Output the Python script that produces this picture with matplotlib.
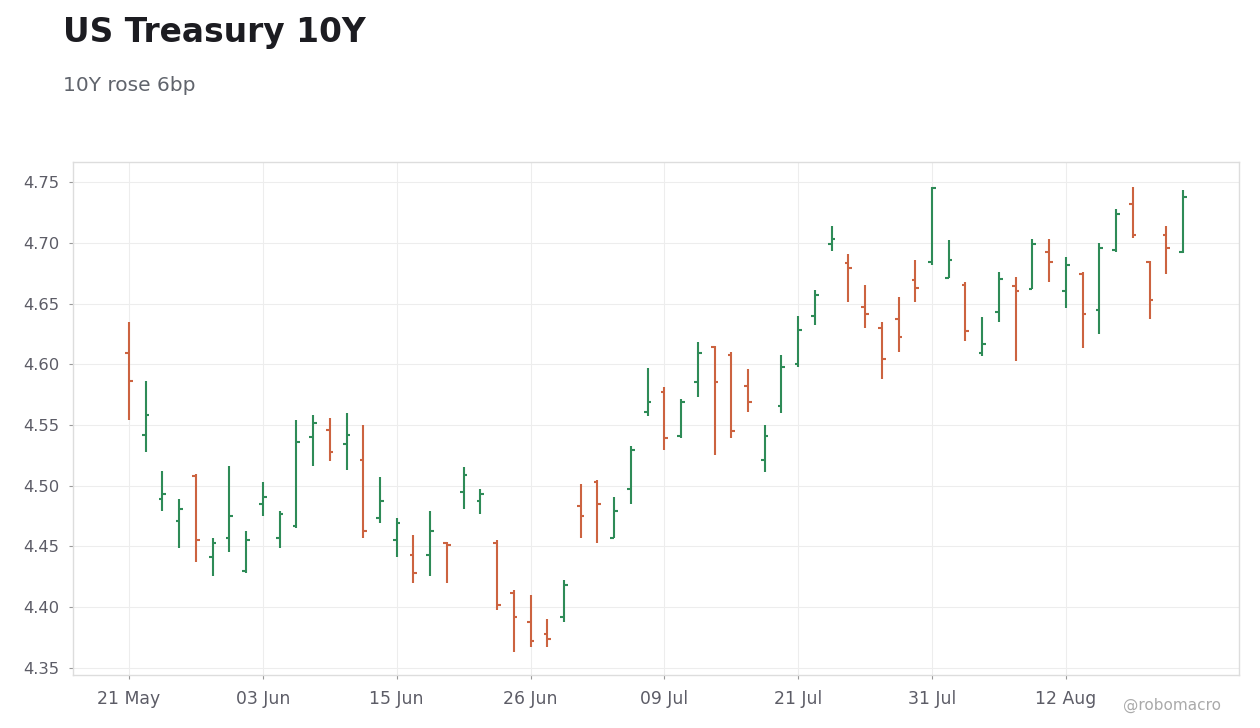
import numpy as np
import matplotlib
matplotlib.use("Agg")
import matplotlib.pyplot as plt
from matplotlib.ticker import FormatStrFormatter

# ---- data ----
opens = [4.6095, 4.5418, 4.4893, 4.4712, 4.5083, 4.4414, 4.4573, 4.4301, 4.4852, 4.4573,
         4.4671, 4.5404, 4.5461, 4.5346, 4.5214, 4.4737, 4.4556, 4.4433, 4.4433, 4.4531,
         4.4951, 4.4877, 4.4531, 4.4120, 4.3881, 4.3782, 4.3922, 4.4836, 4.5033, 4.4573,
         4.4976, 4.5610, 4.5774, 4.5412, 4.5856, 4.6144, 4.6079, 4.5823, 4.5214, 4.5659,
         4.6005, 4.6400, 4.6993, 4.6836, 4.6474, 4.6301, 4.6375, 4.6696, 4.6844, 4.6712,
         4.6655, 4.6095, 4.6434, 4.6646, 4.6622, 4.6928, 4.6605, 4.6745, 4.6449, 4.6943,
         4.7321, 4.6844, 4.7068, 4.6928]
highs = [4.6348, 4.5862, 4.5120, 4.4890, 4.5097, 4.4570, 4.5163, 4.4628, 4.5031, 4.4792,
         4.5541, 4.5582, 4.5558, 4.5599, 4.5500, 4.5072, 4.4735, 4.4595, 4.4792, 4.4535,
         4.5154, 4.4973, 4.4553, 4.4142, 4.4101, 4.3903, 4.4224, 4.5014, 4.5047, 4.4907,
         4.5327, 4.5969, 4.5813, 4.5714, 4.6183, 4.6150, 4.6100, 4.5961, 4.5500, 4.6076,
         4.6397, 4.6611, 4.7138, 4.6907, 4.6652, 4.6348, 4.6553, 4.6858, 4.7463, 4.7025,
         4.6677, 4.6389, 4.6759, 4.6718, 4.7033, 4.7033, 4.6883, 4.6759, 4.6998, 4.7278,
         4.7459, 4.6850, 4.7138, 4.7438]
lows = [4.5543, 4.5280, 4.4795, 4.4490, 4.4375, 4.4260, 4.4457, 4.4285, 4.4753, 4.4490,
        4.4655, 4.5165, 4.5206, 4.5132, 4.4573, 4.4696, 4.4416, 4.4202, 4.4260, 4.4202,
        4.4811, 4.4770, 4.3980, 4.3634, 4.3675, 4.3675, 4.3881, 4.4573, 4.4531, 4.4567,
        4.4852, 4.5577, 4.5297, 4.5395, 4.5733, 4.5256, 4.5395, 4.5609, 4.5116, 4.5601,
        4.5980, 4.6327, 4.6935, 4.6515, 4.6301, 4.5881, 4.6103, 4.6515, 4.6819, 4.6712,
        4.6194, 4.6070, 4.6350, 4.6029, 4.6622, 4.6680, 4.6465, 4.6136, 4.6251, 4.6926,
        4.7043, 4.6375, 4.6745, 4.6918]
closes = [4.5865, 4.5582, 4.4934, 4.4809, 4.4556, 4.4531, 4.4753, 4.4556, 4.4910, 4.4770,
          4.5363, 4.5519, 4.5280, 4.5420, 4.4630, 4.4877, 4.4696, 4.4285, 4.4630, 4.4515,
          4.5091, 4.4934, 4.4021, 4.3922, 4.3725, 4.3741, 4.4186, 4.4753, 4.4852, 4.4795,
          4.5296, 4.5692, 4.5396, 4.5692, 4.6095, 4.5856, 4.5451, 4.5692, 4.5412, 4.5980,
          4.6284, 4.6572, 4.7034, 4.6795, 4.6416, 4.6046, 4.6227, 4.6630, 4.7453, 4.6861,
          4.6276, 4.6169, 4.6704, 4.6605, 4.6993, 4.6844, 4.6819, 4.6416, 4.6961, 4.7239,
          4.7068, 4.6531, 4.6961, 4.7379]
tick_labels = ["21 May", "03 Jun", "15 Jun", "26 Jun", "09 Jul", "21 Jul", "31 Jul", "12 Aug"]
tick_every = 8

title = "US Treasury 10Y"
subtitle = "10Y rose 6bp"
watermark = "@robomacro"

UP = "#2e8b57"
DOWN = "#cc6340"

fig = plt.figure(figsize=(12.6, 7.28), dpi=100)
ax = fig.add_axes([73 / 1260, 1 - 675 / 728, (1239 - 73) / 1260, (675 - 162) / 728])

x = np.arange(len(opens))
colors = [UP if c >= o else DOWN for o, c in zip(opens, closes)]
w = 0.22
lw = 1.5
ax.vlines(x, lows, highs, colors=colors, lw=lw, zorder=3)
ax.hlines(opens, x - w, x, colors=colors, lw=lw, zorder=3)
ax.hlines(closes, x, x + w, colors=colors, lw=lw, zorder=3)

ax.set_xlim(-3.35, len(opens) - 1 + 3.35)
ax.set_ylim(4.3442, 4.7665)
ax.set_yticks(np.arange(4.35, 4.751, 0.05))
ax.yaxis.set_major_formatter(FormatStrFormatter("%.2f"))
ax.set_xticks(np.arange(0, len(tick_labels) * tick_every, tick_every))
ax.set_xticklabels(tick_labels)

ax.set_axisbelow(True)
ax.grid(True, color="#ededed", lw=0.8)
for s in ax.spines.values():
    s.set_color("#dddddd")
    s.set_linewidth(1.0)
ax.tick_params(axis="both", length=3.2, width=0.8, color="#999999",
               labelcolor="#5c5c66")
ax.tick_params(axis="x", labelsize=12.4, pad=7.5)
ax.tick_params(axis="y", labelsize=11.8, pad=6.5)

fig.text(63 / 1260, 1 - 42 / 728, title, fontsize=23.7, fontweight="bold",
         color="#1c1c21", va="baseline", ha="left")
fig.text(63 / 1260, 1 - 91 / 728, subtitle, fontsize=14.5,
         color="#60646c", va="baseline", ha="left")
fig.text(1221 / 1260, 1 - 705 / 728, watermark, fontsize=11, color="#aaaaaa",
         va="center", ha="right")

fig.savefig("out.png", dpi=100)
